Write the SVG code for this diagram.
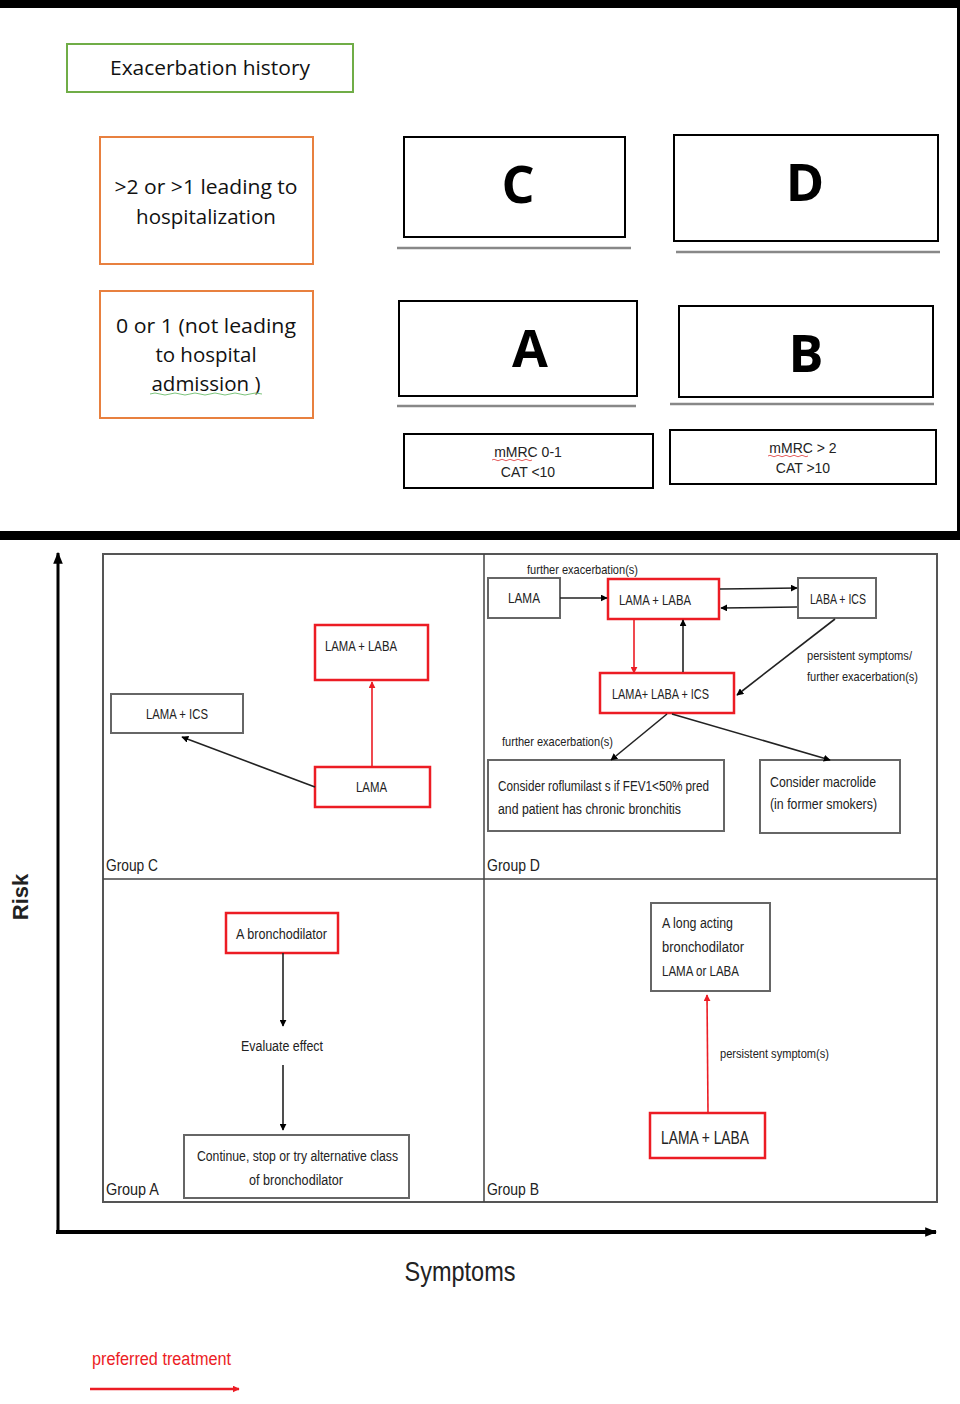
<svg xmlns="http://www.w3.org/2000/svg" width="960" height="1404" viewBox="0 0 960 1404">
<style>
.t{font-family:"Open Sans","Liberation Sans",sans-serif;fill:#111;}
.n{font-family:"Liberation Sans",Arial,sans-serif;fill:#222;}
.nr{font-family:"Liberation Sans",Arial,sans-serif;fill:#ec1c24;}
.big{font-family:"Open Sans","Liberation Sans",sans-serif;font-weight:bold;font-size:52px;fill:#000;text-anchor:middle;}
.red{fill:#fff;stroke:#ec1c24;stroke-width:2.5;}
.gray{fill:#fff;stroke:#666;stroke-width:2;}
.blk{fill:#fff;stroke:#000;stroke-width:2;}
.orange{fill:#fff;stroke:#e8803f;stroke-width:2;}
.ul{stroke:#888;stroke-width:2.5;}
.c{stroke:#222;stroke-width:1.6;fill:none;}
.cr{stroke:#ec1c24;stroke-width:1.6;fill:none;}
.m{text-anchor:middle;}
</style>
<defs>
<marker id="ab" viewBox="0 0 10 10" refX="9" refY="5" markerWidth="7" markerHeight="7" markerUnits="userSpaceOnUse" orient="auto"><path d="M0,0L10,5L0,10z" fill="#000"/></marker>
<marker id="ar" viewBox="0 0 10 10" refX="9" refY="5" markerWidth="7" markerHeight="7" markerUnits="userSpaceOnUse" orient="auto"><path d="M0,0L10,5L0,10z" fill="#ec1c24"/></marker>
<marker id="ax" viewBox="0 0 10 10" refX="9" refY="5" markerWidth="12" markerHeight="12" markerUnits="userSpaceOnUse" orient="auto"><path d="M0,1L10,5L0,9z" fill="#000"/></marker>
</defs>
<rect width="960" height="1404" fill="#fff"/>
<!-- top frame -->
<rect x="0" y="0" width="960" height="8" fill="#000"/>
<rect x="957" y="0" width="3" height="540" fill="#000"/>
<rect x="0" y="531" width="960" height="9" fill="#000"/>

<g id="exacerbation-history">
<rect x="67" y="44" width="286" height="48" fill="#fff" stroke="#70ad47" stroke-width="2"/>
<text class="t m" x="210" y="75" font-size="20" textLength="200" lengthAdjust="spacingAndGlyphs">Exacerbation history</text>
</g>
<g id="high-exac">
<rect class="orange" x="100" y="137" width="213" height="127"/>
<text class="t m" x="206" y="194" font-size="20.5" textLength="183" lengthAdjust="spacingAndGlyphs">&gt;2 or &gt;1 leading to</text>
<text class="t m" x="206" y="224" font-size="20.5">hospitalization</text>
</g>
<g id="low-exac">
<rect class="orange" x="100" y="291" width="213" height="127"/>
<text class="t m" x="206" y="333" font-size="20.5" textLength="180" lengthAdjust="spacingAndGlyphs">0 or 1 (not leading</text>
<text class="t m" x="206" y="362" font-size="20.5">to hospital</text>
<text class="t m" x="206" y="391" font-size="20.5">admission )</text>
<path d="M150,394 Q155,392 160,394 T170,394 T180,394 T190,394 T200,394 T210,394 T220,394 T230,394 T240,394 T250,394 T262,394" stroke="#7cc47c" stroke-width="1" fill="none"/>
</g>
<g id="box-C">
<rect class="blk" x="404" y="137" width="221" height="100"/>
<text class="big" x="518" y="203">C</text>
<line class="ul" x1="397" y1="248" x2="631" y2="248"/>
</g>
<g id="box-D">
<rect class="blk" x="674" y="135" width="264" height="106"/>
<text class="big" x="805" y="201">D</text>
<line class="ul" x1="676" y1="252" x2="940" y2="252"/>
</g>
<g id="box-A">
<rect class="blk" x="399" y="301" width="238" height="95"/>
<text class="big" x="530" y="367">A</text>
<line class="ul" x1="397" y1="406" x2="636" y2="406"/>
</g>
<g id="box-B">
<rect class="blk" x="679" y="306" width="254" height="91"/>
<text class="big" x="806" y="372">B</text>
<line class="ul" x1="670" y1="404" x2="934" y2="404"/>
</g>
<g id="mmrc-low">
<rect class="blk" x="404" y="434" width="249" height="54"/>
<text class="n m" x="528" y="457" font-size="14">mMRC 0-1</text>
<text class="n m" x="528" y="477" font-size="14">CAT &lt;10</text>
<path d="M492,460 q2,-1.5 4,0 t4,0 t4,0 t4,0 t4,0 t4,0 t4,0 t4,0 t4,0 t4,0" stroke="#d33" stroke-width="0.8" fill="none"/>
</g>
<g id="mmrc-high">
<rect class="blk" x="670" y="430" width="266" height="54"/>
<text class="n m" x="803" y="453" font-size="14">mMRC &gt; 2</text>
<text class="n m" x="803" y="473" font-size="14">CAT &gt;10</text>
<path d="M768,456 q2,-1.5 4,0 t4,0 t4,0 t4,0 t4,0 t4,0 t4,0 t4,0 t4,0 t4,0" stroke="#d33" stroke-width="0.8" fill="none"/>
</g>

<!-- bottom chart -->
<g id="axes">
<line x1="58" y1="1232" x2="58" y2="553" stroke="#000" stroke-width="3" marker-end="url(#ax)"/>
<line x1="56" y1="1232" x2="936" y2="1232" stroke="#000" stroke-width="4" marker-end="url(#ax)"/>
<text class="n" x="0" y="0" font-size="22" font-weight="bold" text-anchor="middle" transform="translate(28,897) rotate(-90)">Risk</text>
<text class="n m" x="460" y="1281" font-size="28" textLength="111" lengthAdjust="spacingAndGlyphs">Symptoms</text>
</g>
<g id="quadrants">
<rect x="103" y="554" width="834" height="648" fill="none" stroke="#555" stroke-width="2"/>
<line x1="484" y1="554" x2="484" y2="1202" stroke="#444" stroke-width="1.5"/>
<line x1="103" y1="879" x2="937" y2="879" stroke="#444" stroke-width="1.5"/>
<text class="n" x="106" y="871" font-size="17" textLength="52" lengthAdjust="spacingAndGlyphs">Group C</text>
<text class="n" x="487" y="871" font-size="17" textLength="53" lengthAdjust="spacingAndGlyphs">Group D</text>
<text class="n" x="106" y="1195" font-size="17" textLength="53" lengthAdjust="spacingAndGlyphs">Group A</text>
<text class="n" x="487" y="1195" font-size="17" textLength="52" lengthAdjust="spacingAndGlyphs">Group B</text>
</g>

<!-- Group C nodes -->
<g id="c-lama-laba">
<rect class="red" x="315" y="625" width="113" height="55"/>
<text class="n" x="325" y="651" font-size="14" textLength="72" lengthAdjust="spacingAndGlyphs">LAMA + LABA</text>
</g>
<g id="c-lama-ics">
<rect class="gray" x="111" y="694" width="132" height="39"/>
<text class="n" x="146" y="719" font-size="14" textLength="62" lengthAdjust="spacingAndGlyphs">LAMA + ICS</text>
</g>
<g id="c-lama">
<rect class="red" x="315" y="767" width="115" height="40"/>
<text class="n" x="356" y="792" font-size="14" textLength="31" lengthAdjust="spacingAndGlyphs">LAMA</text>
</g>

<!-- Group D nodes -->
<g id="d-lama">
<rect class="gray" x="488" y="578" width="72" height="40"/>
<text class="n" x="508" y="603" font-size="14" textLength="32" lengthAdjust="spacingAndGlyphs">LAMA</text>
</g>
<g id="d-lama-laba">
<rect class="red" x="608" y="579" width="111" height="40"/>
<text class="n" x="619" y="605" font-size="14" textLength="72" lengthAdjust="spacingAndGlyphs">LAMA + LABA</text>
</g>
<g id="d-laba-ics">
<rect class="gray" x="798" y="578" width="78" height="40"/>
<text class="n" x="810" y="604" font-size="14" textLength="56" lengthAdjust="spacingAndGlyphs">LABA + ICS</text>
</g>
<g id="d-triple">
<rect class="red" x="600" y="673" width="134" height="40"/>
<text class="n" x="612" y="699" font-size="14" textLength="97" lengthAdjust="spacingAndGlyphs">LAMA+ LABA + ICS</text>
</g>
<g id="d-roflumilast">
<rect class="gray" x="488" y="760" width="236" height="71"/>
<text class="n" x="498" y="791" font-size="14" textLength="211" lengthAdjust="spacingAndGlyphs">Consider roflumilast s if FEV1&lt;50% pred</text>
<text class="n" x="498" y="814" font-size="14" textLength="183" lengthAdjust="spacingAndGlyphs">and patient has chronic bronchitis</text>
</g>
<g id="d-macrolide">
<rect class="gray" x="760" y="760" width="140" height="73"/>
<text class="n" x="770" y="787" font-size="14" textLength="106" lengthAdjust="spacingAndGlyphs">Consider macrolide</text>
<text class="n" x="770" y="809" font-size="14" textLength="107" lengthAdjust="spacingAndGlyphs">(in former smokers)</text>
</g>

<!-- Group A nodes -->
<g id="a-bronchodilator">
<rect class="red" x="226" y="913" width="112" height="40"/>
<text class="n" x="236" y="939" font-size="14" textLength="91" lengthAdjust="spacingAndGlyphs">A bronchodilator</text>
</g>
<g id="a-evaluate">
<text class="n" x="241" y="1051" font-size="14" textLength="82" lengthAdjust="spacingAndGlyphs">Evaluate effect</text>
</g>
<g id="a-continue">
<rect class="gray" x="184" y="1135" width="225" height="63"/>
<text class="n" x="197" y="1161" font-size="14" textLength="201" lengthAdjust="spacingAndGlyphs">Continue, stop or try alternative class</text>
<text class="n" x="249" y="1185" font-size="14" textLength="94" lengthAdjust="spacingAndGlyphs">of bronchodilator</text>
</g>

<!-- Group B nodes -->
<g id="b-long-acting">
<rect class="gray" x="651" y="903" width="119" height="88"/>
<text class="n" x="662" y="928" font-size="14" textLength="71" lengthAdjust="spacingAndGlyphs">A long acting</text>
<text class="n" x="662" y="952" font-size="14" textLength="82" lengthAdjust="spacingAndGlyphs">bronchodilator</text>
<text class="n" x="662" y="976" font-size="14" textLength="77" lengthAdjust="spacingAndGlyphs">LAMA or LABA</text>
</g>
<g id="b-lama-laba">
<rect class="red" x="650" y="1113" width="115" height="45"/>
<text class="n" x="661" y="1144" font-size="18" textLength="88" lengthAdjust="spacingAndGlyphs">LAMA + LABA</text>
</g>

<!-- edge labels -->
<g id="labels">
<text class="n" x="527" y="574" font-size="13" textLength="111" lengthAdjust="spacingAndGlyphs">further exacerbation(s)</text>
<text class="n" x="807" y="660" font-size="13" textLength="105" lengthAdjust="spacingAndGlyphs">persistent symptoms/</text>
<text class="n" x="807" y="681" font-size="13" textLength="111" lengthAdjust="spacingAndGlyphs">further exacerbation(s)</text>
<text class="n" x="502" y="746" font-size="13" textLength="111" lengthAdjust="spacingAndGlyphs">further exacerbation(s)</text>
<text class="n" x="720" y="1058" font-size="13" textLength="109" lengthAdjust="spacingAndGlyphs">persistent symptom(s)</text>
</g>

<g id="connectors">
<line class="cr" x1="372" y1="767" x2="372" y2="682" marker-end="url(#ar)"/>
<line class="c" x1="315" y1="787" x2="182" y2="737" marker-end="url(#ab)"/>
<line class="c" x1="560" y1="598" x2="607" y2="598" marker-end="url(#ab)"/>
<line class="c" x1="720" y1="589" x2="797" y2="588" marker-end="url(#ab)"/>
<line class="c" x1="797" y1="607" x2="721" y2="608" marker-end="url(#ab)"/>
<line class="cr" x1="634" y1="620" x2="634" y2="673" marker-end="url(#ar)"/>
<line class="c" x1="683" y1="672" x2="683" y2="620" marker-end="url(#ab)"/>
<line class="c" x1="835" y1="619" x2="737" y2="695" marker-end="url(#ab)"/>
<line class="c" x1="667" y1="714" x2="611" y2="760" marker-end="url(#ab)"/>
<line class="c" x1="672" y1="714" x2="830" y2="760" marker-end="url(#ab)"/>
<line class="c" x1="283" y1="953" x2="283" y2="1026" marker-end="url(#ab)"/>
<line class="c" x1="283" y1="1065" x2="283" y2="1130" marker-end="url(#ab)"/>
<line class="cr" x1="708" y1="1112" x2="707" y2="995" marker-end="url(#ar)"/>
</g>

<g id="legend">
<text class="nr" x="92" y="1365" font-size="18" textLength="139" lengthAdjust="spacingAndGlyphs">preferred treatment</text>
<line x1="90" y1="1389" x2="239" y2="1389" stroke="#ec1c24" stroke-width="2.5" marker-end="url(#ar)"/>
</g>
</svg>
